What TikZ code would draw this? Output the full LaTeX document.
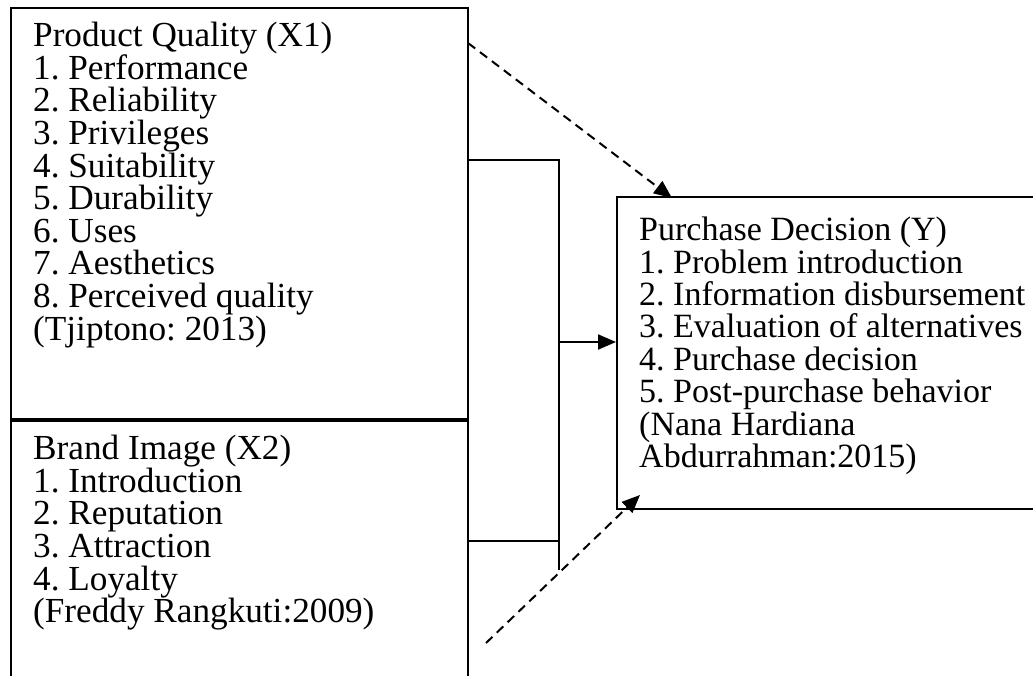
\documentclass[tikz,border=0pt]{standalone}
\usepackage{fontspec}
\setmainfont{Liberation Serif}
\usetikzlibrary{positioning,arrows.meta}
\frenchspacing

\begin{document}
\begin{tikzpicture}[
    x=1pt, y=-1pt,
    box/.style={draw, line width=2pt, inner sep=0pt},
    txt/.style={anchor=north west, align=left, inner sep=0pt,
                font=\fontsize{35.2}{32.6}\selectfont},
    link/.style={line width=2pt},
    arr/.style={-{Triangle[length=18pt,width=15pt]}, line width=2pt},
    dasharr/.style={arr, dash pattern=on 9pt off 6pt},
  ]
  \useasboundingbox (0,0) rectangle (1033,675);
  % Boxes
  \node[box, minimum width=457pt, minimum height=411pt] (qual) at (239.5,213.5) {};
  \node[box, minimum width=457pt, minimum height=280pt] (brand) at (239.5,559) {};
  \node[box, minimum width=430pt, minimum height=312pt] (dec) at (832,353) {};
  \draw[line width=3pt] (qual.south west) -- (qual.south east);
  % Texts
  \node[txt] (qualtxt) at (33,22) {Product Quality (X1)\\1. Performance\\2. Reliability\\3. Privileges\\4. Suitability\\5. Durability\\6. Uses\\7. Aesthetics\\8. Perceived quality\\(Tjiptono: 2013)};
  \node[txt] (brandtxt) at (33,435) {Brand Image (X2)\\1. Introduction\\2. Reputation\\3. Attraction\\4. Loyalty\\(Freddy Rangkuti:2009)};
  \node[txt, font=\fontsize{34}{32.4}\selectfont] (dectxt) at (639,217) {Purchase Decision (Y)\\1. Problem introduction\\2. Information disbursement\\3. Evaluation of alternatives\\4. Purchase decision\\5. Post-purchase behavior\\(Nana Hardiana\\Abdurrahman:2015)};
  % Joint
  \coordinate (jtop) at (559,160);
  \coordinate (jbrand) at (559,541);
  \coordinate (jbot) at (559,570);
  \coordinate (jmid) at (559,342);
  \draw[link] (qual.east |- jtop) -- (jtop) -- (jbot);
  \draw[link] (brand.east |- jbrand) -- (jbrand);
  \draw[arr] (jmid) -- (jmid -| dec.west);
  % Dashed arrows
  \coordinate (dtop) at (468,43);
  \coordinate (dtoptip) at (672,198);
  \coordinate (dbot) at (486,643);
  \coordinate (dbottip) at (640,495);
  \draw[dasharr] (dtop) -- (dtoptip);
  \draw[dasharr] (dbot) -- (dbottip);
\end{tikzpicture}
\end{document}
